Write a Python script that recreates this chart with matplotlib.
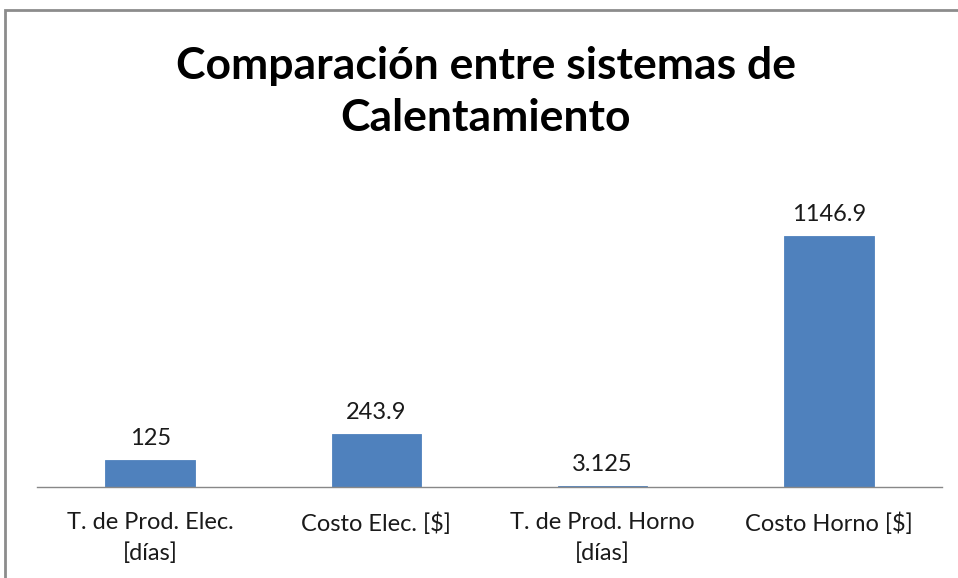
import matplotlib.pyplot as plt
from matplotlib.patches import Rectangle

# Datos de la comparación
categorias = ['T. de Prod. Elec.\n[días]', 'Costo Elec. [$]',
              'T. de Prod. Horno\n[días]', 'Costo Horno [$]']
valores = [125, 243.9, 3.125, 1146.9]
etiquetas = ['125', '243.9', '3.125', '1146.9']

plt.rcParams['font.family'] = ['Lato', 'DejaVu Sans']

fig = plt.figure(figsize=(9.58, 5.78), dpi=100)
fig.patch.set_facecolor('white')

# marco gris del gráfico
fig.patches.append(Rectangle((5 / 958, -0.05), 1.2, 1 - 10 / 578 + 0.05,
                             transform=fig.transFigure, fill=False,
                             edgecolor='#8c8c8c', linewidth=2, zorder=10))

ax = fig.add_axes([37 / 958, 1 - 487 / 578, (942 - 37) / 958, 0.53])
x = range(len(valores))
ax.bar(x, valores, width=0.395, color='#4F81BD', edgecolor='#4F81BD', linewidth=0.6)
ax.set_xlim(-0.5, 3.5)
ax.set_ylim(0, 1146.9 * (0.53 * 578) / 251)

for xi, v, t in zip(x, valores, etiquetas):
    ax.annotate(t, (xi, v), xytext=(0, 8), textcoords='offset points',
                ha='center', va='bottom', fontsize=17, color='#1a1a1a')

for s in ['top', 'right', 'left']:
    ax.spines[s].set_visible(False)
ax.spines['bottom'].set_color('#888888')
ax.spines['bottom'].set_linewidth(1)
ax.set_yticks([])
ax.set_xticks(list(x))
ax.set_xticklabels(categorias, fontsize=17, color='#1a1a1a', linespacing=1.55)
ax.tick_params(axis='x', length=0, pad=18)

fig.text(0.507, 1 - 92 / 578, 'Comparación entre sistemas de\nCalentamiento',
         ha='center', va='center', fontsize=32, fontweight='bold',
         linespacing=1.36, color='black')

fig.savefig('out.png', dpi=100, facecolor='white')
